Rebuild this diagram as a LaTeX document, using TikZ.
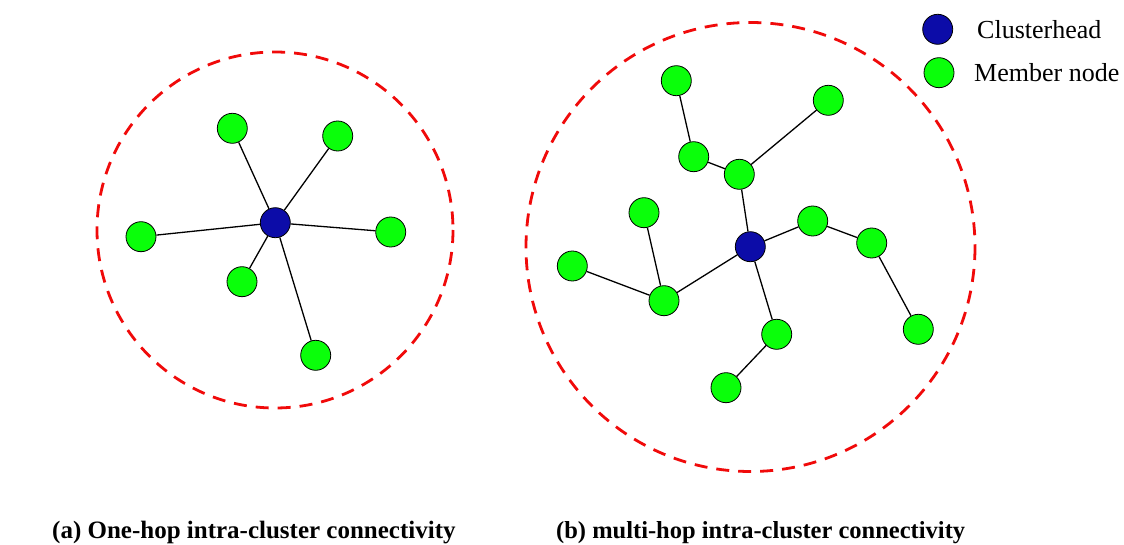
\documentclass[tikz,border=0pt]{standalone}
\usepackage{fontspec}
\setmainfont{Liberation Serif}
\definecolor{chblue}{RGB}{12,12,168}
\definecolor{memgreen}{RGB}{10,255,10}
\definecolor{ringred}{RGB}{240,10,10}
\tikzset{
  ch/.style={circle,draw=black,line width=0.8pt,fill=chblue,minimum size=30pt,inner sep=0pt},
  mem/.style={circle,draw=black,line width=0.8pt,fill=memgreen,minimum size=30pt,inner sep=0pt},
  link/.style={draw=black,line width=1.3pt},
  ring/.style={draw=ringred,line width=2.8pt,dash pattern=on 13pt off 9pt},
  legtext/.style={anchor=west,inner sep=0pt,font=\fontsize{26}{28}\selectfont},
  caption/.style={anchor=base west,inner sep=0pt,font=\fontsize{25}{28}\selectfont\bfseries}
}
\begin{document}
\begin{tikzpicture}[x=1pt,y=-1pt]
\useasboundingbox (0,0) rectangle (1124,545);
% rings
\draw[ring] (275,230) circle[radius=178];
\draw[ring] (750.5,247) circle[radius=224.5];
% (a)
\node[ch] (a0) at (275.3,222.7) {};
\node[mem] (a1) at (232.3,128.3) {};
\node[mem] (a2) at (337.7,136) {};
\node[mem] (a3) at (141,236.7) {};
\node[mem] (a4) at (390.7,232) {};
\node[mem] (a5) at (242,281.7) {};
\node[mem] (a6) at (315.7,355.3) {};
\foreach \n in {a1,a2,a3,a4,a5,a6} \draw[link] (a0) -- (\n);
% (b)
\node[ch] (b0) at (750.3,246.7) {};
\node[mem] (b1) at (676.3,80.7) {};
\node[mem] (b2) at (828.3,100.3) {};
\node[mem] (b3) at (693.7,156.7) {};
\node[mem] (b4) at (739.3,174.3) {};
\node[mem] (b5) at (644,212.7) {};
\node[mem] (b6) at (812.7,221) {};
\node[mem] (b7) at (871.7,243) {};
\node[mem] (b8) at (572.3,266) {};
\node[mem] (b9) at (664,300.7) {};
\node[mem] (b10) at (776.7,334.3) {};
\node[mem] (b11) at (918.3,329.3) {};
\node[mem] (b12) at (726,387.7) {};
\draw[link] (b1) -- (b3);
\draw[link] (b3) -- (b4);
\draw[link] (b4) -- (b2);
\draw[link] (b4) -- (b0);
\draw[link] (b0) -- (b6);
\draw[link] (b6) -- (b7);
\draw[link] (b7) -- (b11);
\draw[link] (b0) -- (b9);
\draw[link] (b9) -- (b5);
\draw[link] (b9) -- (b8);
\draw[link] (b0) -- (b10);
\draw[link] (b10) -- (b12);
% legend
\node[ch] (lch) at (937.7,29.3) {};
\node[mem] (lmem) at (939,72.7) {};
\node[legtext] (tch) at (977,29.3) {Clusterhead};
\node[legtext] (tmem) at (974,72.7) {Member node};
% captions
\node[caption] (capa) at (52,538) {(a) One-hop intra-cluster connectivity};
\node[caption,font=\fontsize{24.5}{28}\selectfont\bfseries] (capb) at (556,538) {(b) multi-hop intra-cluster connectivity};
\end{tikzpicture}
\end{document}
